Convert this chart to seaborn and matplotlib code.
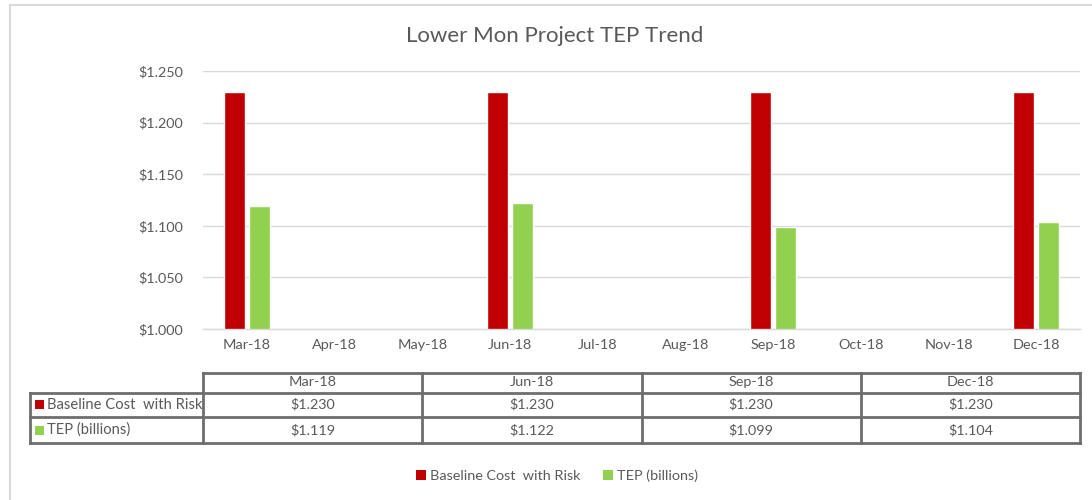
import numpy as np
import pandas as pd
import matplotlib
matplotlib.use("Agg")
import matplotlib.pyplot as plt
import seaborn as sns
from matplotlib.lines import Line2D
from matplotlib.patches import Patch, Rectangle
import matplotlib.transforms as mtransforms

# ---- data ----
months = ["Mar-18", "Apr-18", "May-18", "Jun-18", "Jul-18", "Aug-18",
          "Sep-18", "Oct-18", "Nov-18", "Dec-18"]
report_months = ["Mar-18", "Jun-18", "Sep-18", "Dec-18"]
baseline = [1.230, 1.230, 1.230, 1.230]
tep = [1.119, 1.122, 1.099, 1.104]
series_names = ["Baseline Cost  with Risk", "TEP (billions)"]
yticks = [1.000, 1.050, 1.100, 1.150, 1.200, 1.250]
title = "Lower Mon Project TEP Trend"

colors = {"Baseline Cost  with Risk": "#C00000", "TEP (billions)": "#92D050"}
TXT = "#595959"

df = pd.DataFrame({
    "month": report_months * 2,
    "series": [series_names[0]] * 4 + [series_names[1]] * 4,
    "value": baseline + tep,
})

sns.set_theme(style="white")
plt.rcParams["font.family"] = ["Lato", "DejaVu Sans"]

W, H = 1092, 500
fig = plt.figure(figsize=(W / 100, H / 100), dpi=100)
fig.patch.set_facecolor("white")

def fx(px):
    return px / W

def fy(py):
    return 1 - py / H

ax_l, ax_r, ax_t, ax_b = 203, 1080, 71, 329
ax = fig.add_axes([fx(ax_l), fy(ax_b), fx(ax_r - ax_l), (ax_b - ax_t) / H])

sns.barplot(data=df, x="month", y="value", hue="series", order=months,
            hue_order=series_names, palette=colors, width=0.58, gap=0.17,
            saturation=1, errorbar=None, legend=False, ax=ax)

FS = 10.4
ax.set_ylim(1.0, 1.25)
ax.set_xlim(-0.5, len(months) - 0.5)
ax.set_yticks(yticks)
ax.set_yticklabels([f"${v:.3f}" for v in yticks])
ax.yaxis.grid(True, color="#D9D9D9", linewidth=1)
ax.set_axisbelow(True)
ax.set_xlabel("")
ax.set_ylabel("")
for s in ["left", "right", "top"]:
    ax.spines[s].set_visible(False)
ax.spines["bottom"].set_color("#D9D9D9")
ax.spines["bottom"].set_linewidth(1)
ax.tick_params(axis="y", length=0, labelsize=FS, labelcolor=TXT, pad=14)
ax.tick_params(axis="x", which="major", length=0, labelsize=FS, labelcolor=TXT, pad=7)
ax.set_xticks(np.arange(-0.5, len(months), 1.0), minor=True)
ax.tick_params(axis="x", which="minor", length=5, color="#D9D9D9", width=1)

# ---- title ----
fig.text(fx(555), fy(36), title, ha="center", va="center", fontsize=16, color=TXT)

# ---- data table ----
tr = mtransforms.blended_transform_factory(ax.transAxes, fig.transFigure)
lc = "#6E6E6E"
lw = 2
col_x = [0, 0.25, 0.5, 0.75, 1.0]
label_x0 = (29.5 - ax_l) / (ax_r - ax_l)
rows_y = [372.5, 392.5, 417, 443]

def hline(x0, x1, py):
    fig.add_artist(Line2D([x0, x1], [fy(py), fy(py)], transform=tr, color=lc, lw=lw, solid_capstyle="projecting"))

def vline(x, py0, py1):
    fig.add_artist(Line2D([x, x], [fy(py0), fy(py1)], transform=tr, color=lc, lw=lw, solid_capstyle="projecting"))

hline(0, 1, rows_y[0])
for py in rows_y[1:]:
    hline(label_x0, 1, py)
for x in col_x:
    vline(x, rows_y[0], rows_y[3])
vline(label_x0, rows_y[1], rows_y[3])

for i, m in enumerate(report_months):
    cx = (col_x[i] + col_x[i + 1]) / 2
    fig.text(cx, fy((rows_y[0] + rows_y[1]) / 2), m, transform=tr, ha="center", va="center", fontsize=FS, color=TXT)
    fig.text(cx, fy((rows_y[1] + rows_y[2]) / 2), f"${baseline[i]:.3f}", transform=tr, ha="center", va="center", fontsize=FS, color=TXT)
    fig.text(cx, fy((rows_y[2] + rows_y[3]) / 2), f"${tep[i]:.3f}", transform=tr, ha="center", va="center", fontsize=FS, color=TXT)

for r, name in enumerate(series_names):
    cy = (rows_y[r + 1] + rows_y[r + 2]) / 2
    fig.add_artist(Rectangle((fx(35), fy(cy + 4.5)), fx(9), 9 / H, transform=fig.transFigure,
                             facecolor=colors[name], edgecolor="none"))
    fig.text(fx(47), fy(cy), name, ha="left", va="center", fontsize=10.6, color=TXT)

# ---- legend ----
handles = [Patch(facecolor=colors[n], edgecolor="none", label=n) for n in series_names]
fig.legend(handles=handles, loc="center", bbox_to_anchor=(fx(557), fy(476)), ncol=2,
           frameon=False, fontsize=FS, handlelength=0.7, handleheight=0.7,
           handletextpad=0.3, columnspacing=1.5, labelcolor=TXT)

# ---- outer frame ----
fig.add_artist(Line2D([fx(10), fx(10)], [fy(5), 0], transform=fig.transFigure, color="#D9D9D9", lw=1.5))
fig.add_artist(Line2D([fx(10), 1], [fy(5), fy(5)], transform=fig.transFigure, color="#D9D9D9", lw=1.5))

fig.savefig("out.png", dpi=100, facecolor="white")
